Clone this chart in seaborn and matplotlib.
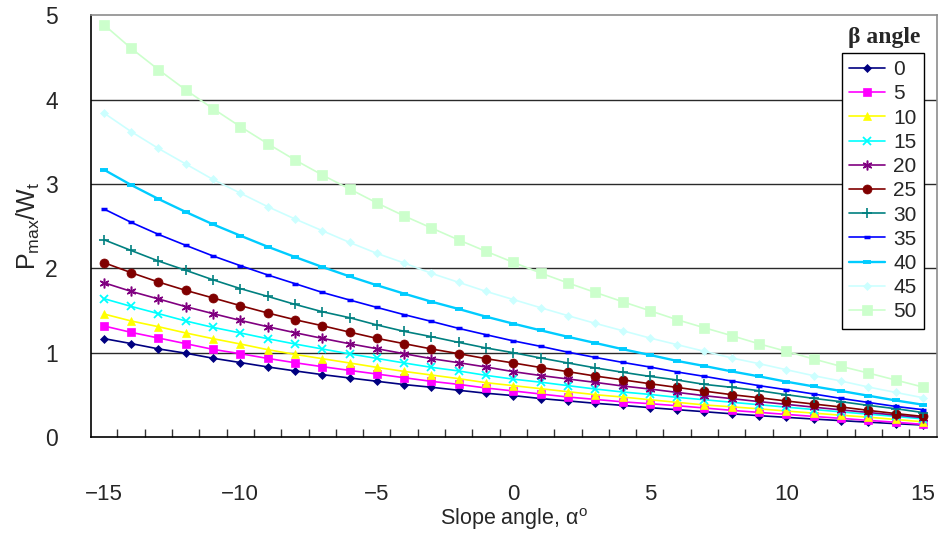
import numpy as np
import pandas as pd
import matplotlib
matplotlib.use("Agg")
import matplotlib.pyplot as plt
import seaborn as sns

sns.set_theme(style="white")
plt.rcParams['font.family'] = ['Liberation Sans', 'DejaVu Sans']
plt.rcParams['mathtext.default'] = 'regular'

alpha = list(range(-15, 16))
betas = [0, 5, 10, 15, 20, 25, 30, 35, 40, 45, 50]

b0 = [1.167, 1.108, 1.045, 0.994, 0.934, 0.883, 0.831, 0.784, 0.740, 0.700, 0.661, 0.622, 0.590, 0.554, 0.519, 0.491,
      0.456, 0.428, 0.400, 0.375, 0.348, 0.324, 0.300, 0.275, 0.253, 0.233, 0.213, 0.194, 0.176, 0.158, 0.142]
b5 = [1.317, 1.241, 1.174, 1.107, 1.039, 0.988, 0.932, 0.881, 0.834, 0.790, 0.747, 0.703, 0.660, 0.624, 0.581, 0.546,
      0.510, 0.474, 0.446, 0.417, 0.395, 0.371, 0.344, 0.316, 0.292, 0.268, 0.244, 0.221, 0.197, 0.175, 0.150]
b10 = [1.459, 1.376, 1.308, 1.234, 1.166, 1.103, 1.036, 0.980, 0.929, 0.878, 0.826, 0.778, 0.735, 0.692, 0.644, 0.609,
       0.573, 0.537, 0.502, 0.474, 0.442, 0.411, 0.380, 0.358, 0.334, 0.308, 0.283, 0.258, 0.235, 0.208, 0.180]
b15 = [1.641, 1.549, 1.463, 1.376, 1.300, 1.234, 1.166, 1.103, 1.044, 0.986, 0.932, 0.878, 0.826, 0.783, 0.731, 0.686,
       0.650, 0.609, 0.569, 0.534, 0.505, 0.470, 0.442, 0.412, 0.383, 0.354, 0.326, 0.298, 0.271, 0.244, 0.215]
b20 = [1.830, 1.727, 1.637, 1.546, 1.463, 1.383, 1.308, 1.237, 1.170, 1.106, 1.047, 0.988, 0.929, 0.881, 0.830, 0.775,
       0.729, 0.688, 0.648, 0.605, 0.569, 0.529, 0.490, 0.455, 0.420, 0.387, 0.354, 0.322, 0.291, 0.260, 0.230]
b25 = [2.068, 1.949, 1.838, 1.739, 1.649, 1.558, 1.471, 1.391, 1.320, 1.244, 1.170, 1.107, 1.044, 0.988, 0.929, 0.878,
       0.824, 0.775, 0.723, 0.678, 0.632, 0.588, 0.544, 0.502, 0.466, 0.427, 0.391, 0.356, 0.316, 0.278, 0.244]
b30 = [2.340, 2.212, 2.087, 1.977, 1.864, 1.760, 1.668, 1.573, 1.486, 1.415, 1.329, 1.253, 1.190, 1.122, 1.056, 1.000,
       0.937, 0.878, 0.820, 0.768, 0.719, 0.676, 0.624, 0.589, 0.549, 0.502, 0.458, 0.419, 0.375, 0.336, 0.290]
b35 = [2.705, 2.546, 2.403, 2.273, 2.147, 2.032, 1.922, 1.819, 1.715, 1.625, 1.537, 1.451, 1.371, 1.288, 1.213, 1.140,
       1.075, 1.006, 0.944, 0.885, 0.830, 0.771, 0.719, 0.664, 0.609, 0.561, 0.510, 0.458, 0.410, 0.363, 0.324]
b40 = [3.171, 2.989, 2.823, 2.669, 2.522, 2.388, 2.257, 2.135, 2.017, 1.905, 1.800, 1.700, 1.605, 1.518, 1.427, 1.344,
       1.265, 1.188, 1.115, 1.042, 0.973, 0.902, 0.842, 0.778, 0.719, 0.656, 0.600, 0.546, 0.490, 0.434, 0.383]
b45 = [3.843, 3.622, 3.422, 3.238, 3.054, 2.892, 2.732, 2.586, 2.447, 2.308, 2.178, 2.064, 1.941, 1.834, 1.727, 1.630,
       1.533, 1.439, 1.348, 1.261, 1.174, 1.095, 1.016, 0.937, 0.870, 0.798, 0.727, 0.664, 0.593, 0.529, 0.466]
b50 = [4.890, 4.610, 4.357, 4.116, 3.894, 3.681, 3.479, 3.286, 3.108, 2.942, 2.776, 2.622, 2.479, 2.337, 2.202, 2.071,
       1.945, 1.827, 1.715, 1.605, 1.498, 1.391, 1.295, 1.202, 1.105, 1.016, 0.925, 0.838, 0.759, 0.676, 0.593]

series = [b0, b5, b10, b15, b20, b25, b30, b35, b40, b45, b50]

colors = ['#000080', '#FF00FF', '#FFFF00', '#00FFFF', '#800080', '#800000',
          '#008080', '#0000FF', '#00CCFF', '#CCFFFF', '#CCFFCC']
markers = ['D', 's', '^', 'x', (6, 2, 0), 'o', '+', '_', '_', 'D', 's']
msizes = [4.0, 5.5, 6.0, 5.5, 7.0, 6.5, 7.5, 4.5, 6.0, 4.5, 6.5]
mews = [0.5, 0.5, 0.5, 1.3, 1.1, 0.5, 1.2, 2.5, 2.8, 0.5, 0.5]
lws = [1.2, 1.2, 1.2, 1.2, 1.2, 1.2, 1.2, 1.2, 1.7, 1.2, 1.2]

rows = []
for b, vals in zip(betas, series):
    for a, v in zip(alpha, vals):
        rows.append((a, v, b))
df = pd.DataFrame(rows, columns=['alpha', 'ratio', 'beta'])

fig = plt.figure(figsize=(9.41, 5.35), dpi=100)
ax = fig.add_axes([91 / 941, 98 / 535, 846 / 941, (437.3 - 15.7) / 535])

for i, b in enumerate(betas):
    sub = df[df['beta'] == b]
    sns.lineplot(data=sub, x='alpha', y='ratio', ax=ax, color=colors[i],
                 marker=markers[i], markersize=msizes[i], markeredgewidth=mews[i],
                 markeredgecolor=colors[i], linewidth=lws[i], label=str(b), zorder=3 + i * 0.01)

ax.set_xlim(-15.47, 15.52)
ax.set_ylim(0, 5)

for g in [1, 2, 3, 4]:
    ax.axhline(g, color='#2a2a2a', lw=1.0, zorder=1)

ax.set_xticks([-15, -10, -5, 0, 5, 10, 15])
ax.set_xticklabels(['\u221215', '\u221210', '\u22125', '0', '5', '10', '15'])
ax.set_xticks(np.arange(-14.5, 15.0, 1.0), minor=True)
ax.tick_params(axis='x', which='major', length=0, pad=34, labelsize=16)
ax.tick_params(axis='x', which='minor', direction='in', length=6, width=1, color='#333333', bottom=True)
ax.set_yticks([0, 1, 2, 3, 4, 5])
ax.tick_params(axis='y', which='major', length=0, pad=24, labelsize=16.5)

for s in ['left', 'bottom']:
    ax.spines[s].set_color('black')
    ax.spines[s].set_linewidth(1.2)
for s in ['top', 'right']:
    ax.spines[s].set_color('#8c8c8c')
    ax.spines[s].set_linewidth(1.2)

ax.set_xlabel('Slope angle, \u03b1$^{o}$', fontsize=15.5)
ax.set_ylabel('P$_{max}$/W$_{t}$', fontsize=18)
ax.xaxis.set_label_coords(0.5, -0.163)
ax.yaxis.set_label_coords(-0.058, 0.5)

handles, labels = ax.get_legend_handles_labels()
leg = ax.legend(handles, labels, loc='upper left', bbox_to_anchor=(842 / 941, 1 - 53 / 535),
                bbox_transform=fig.transFigure, frameon=True, fancybox=False, fontsize=15,
                handlelength=1.7, handletextpad=0.4, labelspacing=0.25, borderpad=0.35,
                borderaxespad=0)
leg.get_frame().set_edgecolor('black')
leg.get_frame().set_linewidth(1.0)
leg.get_frame().set_alpha(1)

fig.text(884 / 941, 1 - 38 / 535, '\u03b2 angle', ha='center', va='center', fontsize=17,
         fontweight='bold', family=['Liberation Serif', 'DejaVu Serif'])

fig.savefig('out.png', dpi=100)
